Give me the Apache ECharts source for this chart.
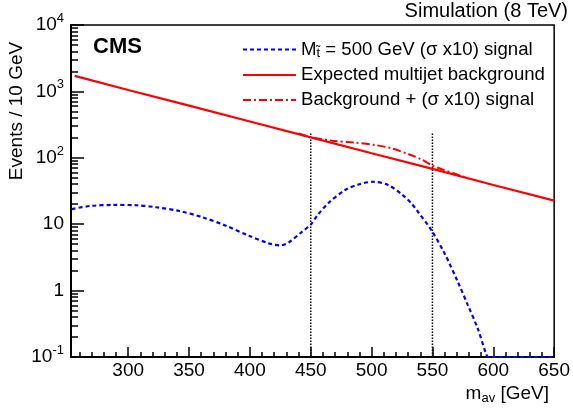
<!DOCTYPE html>
<html>
<head>
<meta charset="utf-8">
<script src="https://cdn.jsdelivr.net/npm/echarts@6/dist/echarts.min.js"></script>
<style>html,body{margin:0;padding:0;background:#fff;}#c{width:573px;height:409px;}</style>
</head>
<body>
<div id="c"></div>
<script>
// ---- data ----
const bkgX = [256, 300, 350, 400, 450, 500, 550, 600, 650];
const bkgY = [1710, 1050, 610, 352, 203, 117, 68, 39, 22.6];

const sigX = [253.6, 268.5, 287.6, 306.7, 323, 342.1, 361.1, 380.2, 399.2, 415.6, 425.1, 431.9, 442.8, 449.6, 456, 464.6, 478.2, 490, 501.3, 513.6, 525, 532.4, 538.1, 549, 559.9, 570.8, 579, 587.2, 593.9, 596, 650];
const sigY = [16.9, 18.8, 19.5, 19.3, 18.0, 15.8, 12.7, 9.5, 6.7, 5.15, 4.8, 5.3, 7.7, 9.7, 14, 20.9, 32.7, 40, 43.6, 38.9, 28, 20.9, 15.4, 8.2, 3.65, 1.36, 0.61, 0.27, 0.114, 0.1, 0.1];

const sumX = [440, 449.6, 467.3, 486.4, 502.7, 516.3, 529.9, 540.8, 549, 559.9, 568, 578];
const sumY = [232, 205, 181, 169, 156, 139, 114, 95, 78, 65, 58, 50];

const cutX = [450, 550];
const cutTop = 236;

const xLabelValues = [300, 350, 400, 450, 500, 550, 600, 650];
const xMinorValues = [260,270,280,290,310,320,330,340,360,370,380,390,410,420,430,440,460,470,480,490,510,520,530,540,560,570,580,590,610,620,630,640];
const yLabelValues = [0.1, 1, 10, 100, 1000, 10000];
const yMinorValues = [0.2,0.3,0.4,0.5,0.6,0.7,0.8,0.9, 2,3,4,5,6,7,8,9, 20,30,40,50,60,70,80,90, 200,300,400,500,600,700,800,900, 2000,3000,4000,5000,6000,7000,8000,9000];

const sigName = 'M t = 500 GeV (σ x10) signal';
const bkgName = 'Expected multijet background';
const sumName = 'Background + (σ x10) signal';

const zip = (xs, ys) => xs.map((x, i) => [x, ys[i]]);
const FONT = '"Liberation Sans", Arial, Helvetica, sans-serif';

const chart = echarts.init(document.getElementById('c'), null, {renderer: 'canvas'});

const cutSeries = cutX.map(x => ({
  type: 'line', name: 'cut' + x, data: [[x, 0.1], [x, cutTop]],
  showSymbol: false, symbol: 'none', silent: true,
  lineStyle: {color: '#000', width: 1.5, type: [1.5, 1.5]}, z: 1
}));

const option = {
  animation: false,
  backgroundColor: '#fff',
  grid: {left: 71, right: 16, top: 25, bottom: 52, show: true, borderColor: '#000', borderWidth: 1.5, containLabel: false},
  xAxis: [{
    type: 'value', min: 253, max: 650,
    axisLine: {show: true, lineStyle: {color: '#000', width: 2}},
    axisTick: {show: true, inside: true, length: 10, customValues: xLabelValues, lineStyle: {color: '#000', width: 1.5}},
    axisLabel: {show: true, customValues: xLabelValues, color: '#000', fontSize: 19, fontFamily: FONT, margin: 4},
    splitLine: {show: false}
  }, {
    type: 'value', min: 253, max: 650, position: 'bottom', offset: 0,
    axisLine: {show: false},
    axisTick: {show: true, inside: true, length: 5, customValues: xMinorValues, lineStyle: {color: '#000', width: 1.5}},
    axisLabel: {show: false},
    splitLine: {show: false}
  }],
  yAxis: [{
    type: 'log', logBase: 10, min: 0.1, max: 10000,
    axisLine: {show: true, lineStyle: {color: '#000', width: 2}},
    axisTick: {show: true, inside: true, length: 13, customValues: yLabelValues, lineStyle: {color: '#000', width: 1.5}},
    axisLabel: {
      show: true, customValues: yLabelValues, margin: 7, color: '#000', fontFamily: FONT,
      formatter: function (v) {
        const e = Math.round(Math.log10(v));
        if (e === 0) return '{b|1}';
        if (e === 1) return '{b|10}';
        return '{b|10}{sup|' + (e < 0 ? '-' + (-e) : e) + '}';
      },
      rich: {
        b: {fontSize: 19, fontFamily: FONT, color: '#000', lineHeight: 26},
        sup: {fontSize: 13, fontFamily: FONT, color: '#000', lineHeight: 13, verticalAlign: 'top'}
      }
    },
    splitLine: {show: false}
  }, {
    type: 'log', logBase: 10, min: 0.1, max: 10000, position: 'left', offset: 0,
    axisLine: {show: false},
    axisTick: {show: true, inside: true, length: 7, customValues: yMinorValues, lineStyle: {color: '#000', width: 1.5}},
    axisLabel: {show: false},
    splitLine: {show: false}
  }],
  legend: {
    show: true, orient: 'vertical', left: 237, top: 35,
    itemWidth: 53, itemHeight: 14, itemGap: 6,
    itemStyle: {opacity: 0, borderWidth: 0},
    data: [sigName, bkgName, sumName],
    formatter: function (name) {
      if (name === sigName) return '{t|M}{sub|t̃}{t| = 500 GeV (σ x10) signal}';
      return '{t|' + name + '}';
    },
    textStyle: {
      color: '#000', fontFamily: FONT, fontSize: 18.6,
      rich: {
        t: {fontSize: 18.6, fontFamily: FONT, color: '#000', lineHeight: 20},
        sub: {fontSize: 13, fontFamily: FONT, color: '#000', lineHeight: 13, verticalAlign: 'bottom'}
      }
    }
  },
  graphic: [
    {type: 'text', left: 93, top: 36, style: {text: 'CMS', font: 'bold 22px ' + FONT, fill: '#000'}},
    {type: 'text', right: 5, top: 1, style: {text: 'Simulation (8 TeV)', font: '20px ' + FONT, fill: '#000'}},
    {type: 'text', x: 17, y: 111, rotation: Math.PI / 2,
     style: {text: 'Events / 10 GeV', font: '19px ' + FONT, fill: '#000', align: 'center', verticalAlign: 'middle'}},
    {type: 'text', right: 24, top: 384,
     style: {text: '{m|m}{s|av}{m| [GeV]}', fill: '#000',
       rich: {m: {fontSize: 19, fontFamily: FONT, color: '#000', lineHeight: 22},
              s: {fontSize: 13, fontFamily: FONT, color: '#000', lineHeight: 13, verticalAlign: 'bottom'}}}}
  ],
  series: [
    {type: 'line', name: sigName, data: zip(sigX, sigY), smooth: 0.3, showSymbol: false, symbol: 'none',
     lineStyle: {color: '#0000ff', width: 2.2, type: [4, 3]}, itemStyle: {color: '#0000ff'}, z: 3},
    {type: 'line', name: bkgName, data: zip(bkgX, bkgY), smooth: false, showSymbol: false, symbol: 'none',
     lineStyle: {color: '#ff0000', width: 2.2, type: 'solid'}, itemStyle: {color: '#ff0000'}, z: 4},
    {type: 'line', name: sumName, data: zip(sumX, sumY), smooth: 0.3, showSymbol: false, symbol: 'none',
     lineStyle: {color: '#ff0000', width: 2, type: [8, 3, 2, 3]}, itemStyle: {color: '#ff0000'}, z: 5}
  ].concat(cutSeries)
};
chart.setOption(option);
</script>
</body>
</html>
